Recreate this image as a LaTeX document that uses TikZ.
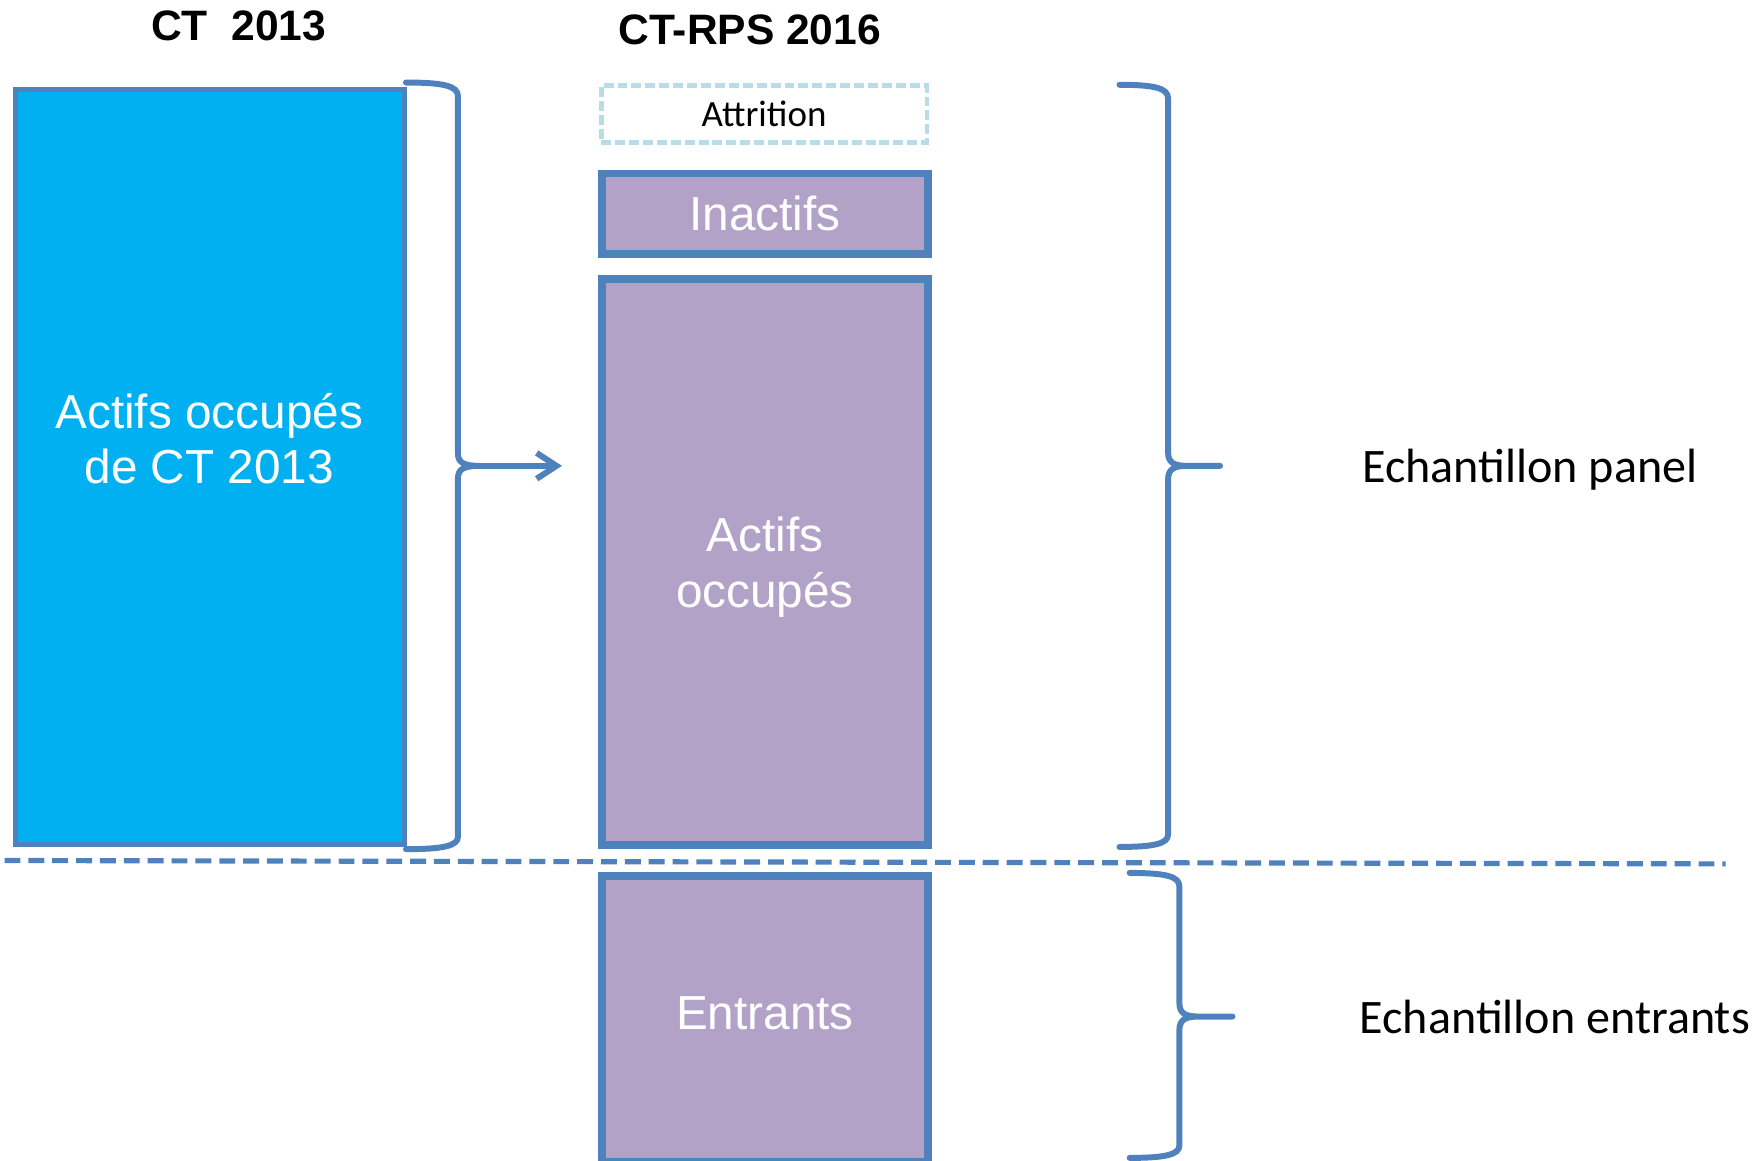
\documentclass[tikz,border=0pt]{standalone}
\usepackage{fontspec}
\setmainfont{Liberation Sans}
\newfontfamily\calibri{Carlito}
\usetikzlibrary{arrows.meta}
\definecolor{edgeblue}{HTML}{4F81BD}
\definecolor{ctblue}{HTML}{00B0F0}
\definecolor{lilac}{HTML}{B3A2C7}
\definecolor{paleblue}{HTML}{B7DEE8}

\begin{document}
\begin{tikzpicture}[x=0.01cm,y=-0.01cm,
	cohort/.style={draw=edgeblue,line width=1.25pt,fill=ctblue,inner sep=0pt},
	wave/.style={draw=edgeblue,line width=1.9pt,fill=lilac,text=white,align=center,inner sep=0pt,minimum width=2.88cm,font=\fontsize{12}{14}\selectfont},
	lost/.style={draw=paleblue,line width=1.25pt,dash pattern=on 2.5pt off 1pt,fill=white,minimum width=2.88cm,minimum height=0.5cm,inner sep=0pt,font=\calibri\fontsize{9.3}{11}\selectfont},
	year/.style={font=\bfseries\fontsize{10.7}{12}\selectfont},
	sample/.style={font=\calibri\fontsize{12.1}{14}\selectfont},
	curly/.style={draw=edgeblue,line width=1.5pt,line cap=round,line join=round}]
	\useasboundingbox (0,0) rectangle (1560,1026.7);

	\node[year] (t13) at (211,23) {CT\ \ 2013};
	\node[year] (t16) at (663,26.5) {CT-RPS 2016};

	\node[cohort,minimum width=3.44cm,minimum height=6.68cm] (ct13) at (185.4,413) {};
	\node[text=white,align=center,font=\fontsize{12}{14}\selectfont] (ct13lab) at (185,388) {Actifs occupés\\de CT 2013};

	\node[lost] (attr) at (675.7,101) {Attrition};
	\node[wave,minimum height=0.714cm] (inact) at (676.5,189) {Inactifs};
	\node[wave,minimum height=5cm,text depth=0pt] (actif) at (676.5,497) {Actifs\\occupés};
	\node[wave,minimum height=2.52cm,text depth=3pt] (entr) at (676.5,901) {Entrants};

	\node[sample] (panel) at (1353,415) {Echantillon panel};
	\node[sample] (newcomers) at (1375,899) {Echantillon entrants};

	% separation panel / entrants
	\coordinate (sepL) at (4,761);
	\coordinate (sepR) at (1526,764);
	\draw[edgeblue,line width=1.3pt,dash pattern=on 4pt off 2pt] (sepL) -- (sepR);

	% braces
	\draw[curly] (359,73) .. controls (392,73) and (405,76) .. (405,85) -- (405,401) .. controls (405,409) and (410,412) .. (424,412)
		.. controls (410,412) and (405,415) .. (405,423) -- (405,740) .. controls (405,748) and (392,751) .. (359,751);
	\draw[curly] (990,75) .. controls (1021,75) and (1033,78) .. (1033,87) -- (1033,400) .. controls (1033,409) and (1038,412) .. (1050,412) -- (1079,412)
		-- (1050,412) .. controls (1038,412) and (1033,415) .. (1033,424) -- (1033,738) .. controls (1033,746) and (1021,749) .. (990,749);
	\draw[curly] (999,772) .. controls (1031,772) and (1043,775) .. (1043,784) -- (1043,887) .. controls (1043,896) and (1048,899) .. (1060,899) -- (1090,899)
		-- (1060,899) .. controls (1048,899) and (1043,902) .. (1043,911) -- (1043,1013) .. controls (1043,1021) and (1031,1024) .. (999,1024);

	\coordinate (ctTip) at (424,412);
	\coordinate (arrEnd) at (497,412);
	\draw[curly,-{Straight Barb[length=5pt,width=6.5pt]}] (ctTip) -- (arrEnd);
\end{tikzpicture}
\end{document}
